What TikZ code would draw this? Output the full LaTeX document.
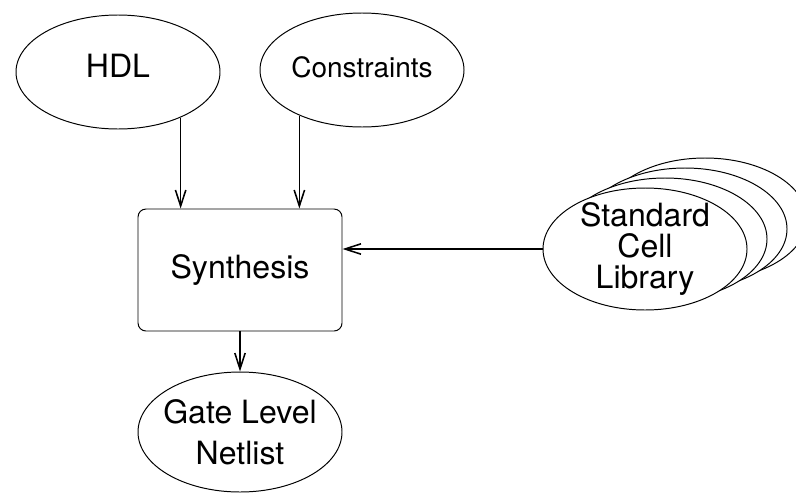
\documentclass[tikz,border=0pt]{standalone}
\usepackage{fontspec}
\setmainfont{TeX Gyre Heros}
\usetikzlibrary{shapes.geometric, arrows.meta}

\tikzset{
    oval/.style={ellipse, draw, line width=0.7pt, fill=white, inner sep=0pt,
        minimum width=5.1cm, minimum height=2.85cm},
    flow/.style={-{Straight Barb[length=0.4cm, width=0.26cm]}, line width=1.1pt},
    big/.style={font=\fontsize{22.8}{27}\selectfont},
}

\begin{document}
\begin{tikzpicture}
    \useasboundingbox (0,0) rectangle (19.9,-12.325);
    \clip (0,0) rectangle (19.9,-12.325);

    % inputs on top
    \node[oval] (hdl) at (2.95,-1.8) {};
    \node[big] (hdltext) at ([yshift=0.15cm]hdl) {HDL};
    \node[oval] (cons) at (9.05,-1.75) {};
    \node[font=\fontsize{19.9}{24}\selectfont] (constext) at ([yshift=0.07cm]cons) {Constraints};

    % the tool itself
    \node[draw, line width=0.7pt, rounded corners=0.2cm, minimum width=5.1cm,
        minimum height=3.05cm, big] (synth) at (6.0,-6.75) {Synthesis};

    % cell library: a stack of ovals
    \foreach \i in {3,2,1}
        \node[oval, minimum height=3.05cm] (lib\i) at ({16.125+0.5*\i}, {-6.225+0.25*\i}) {};
    \node[oval, minimum height=3.05cm] (lib) at (16.125,-6.225) {};
    \node[align=center, font=\fontsize{22.8}{22}\selectfont] (libtext) at (lib) {Standard\\Cell\\Library};

    % output
    \node[oval, minimum height=3.0cm] (netlist) at (6.0,-10.8) {};
    \node[align=center, font=\fontsize{22.8}{29.2}\selectfont] (nettext) at (netlist) {Gate Level\\Netlist};

    % connections
    \draw[flow] (hdl.-36) -- (hdl.-36 |- synth.north);
    \draw[flow] (cons.-144) -- (cons.-144 |- synth.north);
    \draw[flow] (lib.west) -- (lib.west -| synth.east);
    \draw[flow] (synth.south) -- (netlist.north);
\end{tikzpicture}
\end{document}
